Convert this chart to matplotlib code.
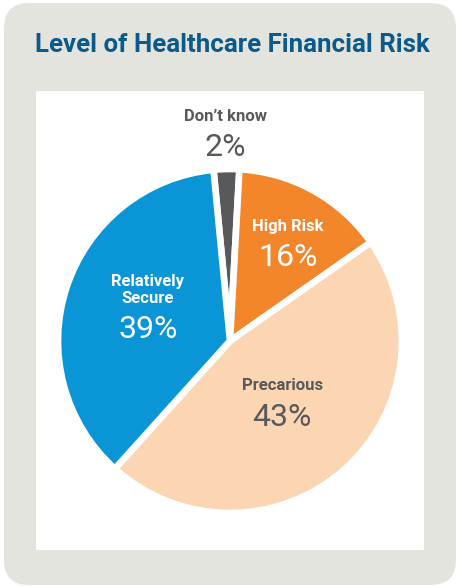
import matplotlib
matplotlib.use("Agg")
import matplotlib.pyplot as plt
from matplotlib.patches import FancyBboxPatch, Rectangle

# data (wedge shares as drawn, labels as printed)
categories = ["Don\u2019t know", "High Risk", "Precarious", "Relatively\nSecure"]
shares = [2.4, 14.4, 46.4, 36.8]
pct_labels = ["2%", "16%", "43%", "39%"]
colors = ["#58595b", "#f3852a", "#fcd5b2", "#0a95d6"]
text_colors = ["#58595b", "white", "#58595b", "white"]

W, H = 458, 586
fig = plt.figure(figsize=(W / 100, H / 100), dpi=100)
fig.patch.set_facecolor("white")

def fx(x):
    return x / W

def fy(y):
    return 1 - y / H

# outer grey card and white inner panel
card = FancyBboxPatch((fx(4), fy(585)), fx(452), 582 / H,
                      boxstyle="round,pad=0,rounding_size=0.055",
                      transform=fig.transFigure, facecolor="#e4e4df",
                      edgecolor="none", mutation_aspect=W / H, zorder=-5)
fig.patches.append(card)
fig.patches.append(Rectangle((fx(36), fy(550)), fx(388), 459 / H,
                             transform=fig.transFigure, facecolor="white",
                             edgecolor="none", zorder=-4))

fig.text(fx(232), fy(45), "Level of Healthcare Financial Risk",
         ha="center", va="center", fontsize=18.6, fontweight="bold",
         color="#0b5a8c", family="Roboto")

# pie
cx, cy, r = 230, 341, 172
ax = fig.add_axes([fx(cx - r), fy(cy + r), 2 * r / W, 2 * r / H])
ax.patch.set_alpha(0)
ax.pie(shares, colors=colors, startangle=95.5, counterclock=False,
       wedgeprops=dict(edgecolor="white", linewidth=4.8))
ax.set_xlim(-1, 1)
ax.set_ylim(-1, 1)
ax.set_aspect("auto")
ax.axis("off")

# label positions (pixels)
name_pos = [(225, 116), (288, 227), (283, 385), (148, 290)]
pct_pos = [(225, 148), (288, 258), (282, 418), (148, 330)]

for name, pct, tc, (nx, ny), (px, py) in zip(categories, pct_labels,
                                              text_colors, name_pos, pct_pos):
    fig.text(fx(nx), fy(ny), name, ha="center", va="center", fontsize=12,
             fontweight="bold", color=tc, family="Roboto", linespacing=1.1)
    fig.text(fx(px), fy(py), pct, ha="center", va="center", fontsize=23,
             fontweight="normal", color=tc, family="Roboto")

fig.savefig("out.png", dpi=100)
